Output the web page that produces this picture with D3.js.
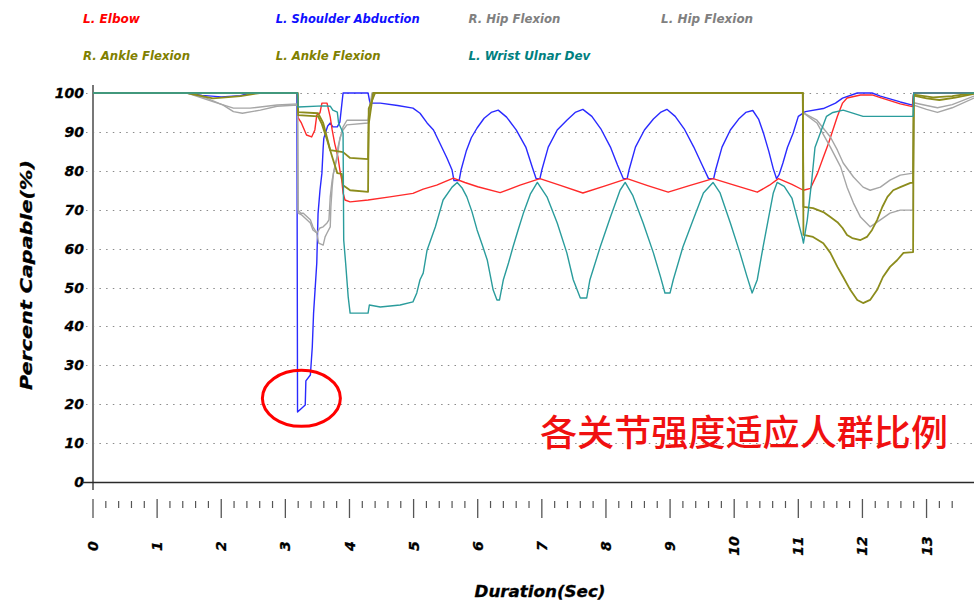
<!DOCTYPE html>
<html>
<head>
<meta charset="utf-8">
<script src="https://cdn.jsdelivr.net/npm/d3@7"></script>
<style>
  html, body { margin: 0; padding: 0; background: #fff; }
  svg { display: block; }
  .bi { font-family: "DejaVu Sans", Verdana, sans-serif; font-weight: bold; font-style: italic; }
</style>
</head>
<body>
<svg id="chart" width="974" height="602"></svg>
<script>
// ---- data: [time (s), percent capable] ----
const legendLabels = ["L. Elbow", "L. Shoulder Abduction", "R. Hip Flexion", "L. Hip Flexion",
                      "R. Ankle Flexion", "L. Ankle Flexion", "L. Wrist Ulnar Dev"];

const elbow = [[0,100],[3.19,100],[3.2,93.6],[3.25,92.3],[3.33,89.2],[3.41,88.7],[3.46,90.5],[3.49,94.3],
  [3.54,94.9],[3.57,97.4],[3.65,97.4],[3.70,93.8],[3.73,90.5],[3.77,87],[3.82,83.6],[3.85,80.2],[3.88,77.6],
  [3.90,74.3],[3.93,72.5],[4.01,72],[4.29,72.5],[4.63,73.3],[4.99,74.2],[5.15,75.3],[5.36,76.3],[5.62,78.1],
  [5.80,77],[6.0,75.9],[6.35,74.4],[6.66,76.3],[6.97,78],[7.3,76.2],[7.64,74.3],[8.0,76.2],[8.33,78],
  [8.65,76.2],[8.97,74.5],[9.3,76.2],[9.67,78],[10.0,76.3],[10.36,74.5],[10.55,76.3],[10.69,78],[10.9,76.5],
  [11.08,75],[11.19,75.5],[11.30,79.4],[11.39,83.5],[11.47,87],[11.61,94],[11.69,97.4],[11.76,98.7],
  [11.97,99.5],[12.15,99.5],[12.28,98.8],[12.59,97.2],[12.78,96.5],[12.80,100],[13.74,100]];

const shoulderAbd = [[0,100],[1.46,100],[1.7,99.4],[2.0,99.0],[2.3,99.3],[2.45,100],[3.18,100],[3.19,18],
  [3.31,19.8],[3.32,26],[3.39,27.5],[3.42,34.7],[3.44,43.4],[3.49,56.3],[3.51,69],[3.54,75],[3.57,79.4],
  [3.59,86],[3.60,88.4],[3.66,91.5],[3.70,92.3],[3.74,91.3],[3.81,91.3],[3.85,92.5],[3.88,97],[3.90,100],
  [4.29,100],[4.32,97.4],[4.48,97.4],[4.75,96.8],[4.99,96.1],[5.10,94.8],[5.21,92.3],[5.31,90.5],[5.41,87.1],
  [5.52,83.3],[5.60,80.2],[5.63,77.5],[5.71,77.5],[5.74,80.2],[5.82,85],[5.90,88.5],[5.99,91],[6.10,93.5],
  [6.21,95],[6.32,95.6],[6.45,93.8],[6.60,90.5],[6.75,86.1],[6.85,81],[6.91,78],[6.97,78],[7.0,80.2],
  [7.1,86.1],[7.24,90.5],[7.39,93],[7.52,95],[7.64,95.8],[7.78,94],[7.92,90.8],[8.07,86.1],[8.18,81.5],
  [8.27,78],[8.33,78],[8.36,80.2],[8.46,86.1],[8.60,90.5],[8.74,93.3],[8.85,95],[8.95,95.8],[9.08,94],
  [9.22,90.8],[9.37,86.1],[9.50,81.5],[9.60,78],[9.68,78],[9.71,80.2],[9.81,86.1],[9.94,90.5],[10.07,93.3],
  [10.18,95],[10.29,95.5],[10.38,93.3],[10.46,89.5],[10.54,85],[10.61,80.5],[10.66,78],[10.70,79],[10.76,82],
  [10.83,86],[10.92,89.7],[11.0,94],[11.11,95.2],[11.39,96],[11.58,97.4],[11.69,98.7],[11.92,100],
  [12.15,100],[12.28,99.2],[12.59,97.7],[12.78,96.9],[12.80,100],[13.74,100]];

const rHip = [[0,100],[1.47,100],[1.78,98.6],[2.03,96.9],[2.19,95.2],[2.33,94.8],[2.61,95.6],[2.87,96.6],
  [3.19,96.9],[3.2,69.9],[3.24,69.1],[3.28,69.1],[3.39,67.4],[3.43,65.6],[3.49,64],[3.52,61.4],[3.59,60.9],
  [3.62,63],[3.65,64],[3.70,65.6],[3.71,70.7],[3.73,75.8],[3.75,79.4],[3.81,83.6],[3.82,86.1],[3.90,91.3],
  [3.96,93],[4.29,93],[4.32,97.4],[4.37,100],[11.07,100],[11.08,94.9],[11.29,92.3],[11.50,86.1],[11.66,81],
  [11.76,75.8],[11.86,71.7],[11.97,68.1],[12.12,65.6],[12.28,67.4],[12.43,69.1],[12.59,69.9],[12.79,69.9],
  [12.80,96.9],[13.0,95.8],[13.17,95.0],[13.4,96.2],[13.74,98.7]];

const lHip = [[0,100],[1.47,100],[1.87,97.8],[2.19,96.1],[2.45,96.1],[2.87,96.9],[3.19,97.2],[3.2,69.1],
  [3.26,68.6],[3.39,66.6],[3.43,64.8],[3.49,64],[3.54,65.3],[3.59,65.6],[3.65,66.6],[3.68,67.4],[3.70,73.3],
  [3.73,77.6],[3.77,81],[3.82,84.8],[3.85,88.4],[3.90,90.5],[3.96,91.8],[4.29,92.3],[4.35,100],[11.07,100],
  [11.08,94.9],[11.29,93],[11.50,88.7],[11.61,85.3],[11.70,82],[11.86,78.4],[12.01,75.8],[12.12,75],
  [12.28,75.8],[12.43,77.6],[12.59,78.9],[12.79,79.4],[12.80,97.5],[13.0,96.8],[13.17,96.2],[13.4,97],
  [13.74,99.2]];

const rAnkle = [[0,100],[1.47,100],[1.87,98.6],[2.3,99.2],[2.6,100],[3.19,100],[3.2,95.1],[3.51,94.8],
  [3.59,92.3],[3.65,88.5],[3.70,85.3],[3.90,84.8],[4.01,83.3],[4.29,83],[4.30,92],[4.37,100],[11.07,100],
  [11.08,70.7],[11.23,70.4],[11.39,69.4],[11.50,68.1],[11.61,66.8],[11.69,65.3],[11.76,63.5],[11.84,62.7],
  [11.97,62.2],[12.07,63],[12.15,64.8],[12.23,67.4],[12.31,70.7],[12.39,73.3],[12.48,75],[12.59,75.8],
  [12.75,76.9],[12.79,76.9],[12.80,99.3],[13.0,98.6],[13.2,98.2],[13.45,98.8],[13.74,99.8]];

const lAnkle = [[0,100],[3.19,100],[3.2,94.3],[3.51,94.0],[3.57,92],[3.65,88],[3.73,83.6],[3.81,79.4],
  [3.88,79.2],[3.90,76.3],[4.01,75],[4.29,74.6],[4.30,96],[4.40,100],[11.07,100],[11.08,63.5],[11.23,63],
  [11.39,61.4],[11.50,58.9],[11.61,55.3],[11.70,52.7],[11.81,49.4],[11.92,46.8],[12.01,46],[12.12,46.8],
  [12.23,49.4],[12.32,52.7],[12.43,55.3],[12.54,57],[12.64,58.9],[12.79,59.1],[12.80,99.6],[13.1,98.9],
  [13.4,99.2],[13.74,100]];

const wristUlnar = [[0,100],[3.19,100],[3.2,96.4],[3.59,96.7],[3.70,96.6],[3.74,95.6],[3.81,95.1],[3.83,92.3],
  [3.88,90.5],[3.90,89.7],[3.91,62.2],[3.94,56.3],[3.98,47.6],[4.01,43.4],[4.29,43.4],[4.31,45.5],[4.48,45],
  [4.79,45.5],[4.99,46.3],[5.05,48.6],[5.10,52],[5.15,53.7],[5.21,59.6],[5.34,65.6],[5.46,72.5],[5.60,75.8],
  [5.68,77],[5.76,75.5],[5.83,73.3],[5.91,69.5],[5.99,64.8],[6.07,61],[6.15,57],[6.24,49.4],[6.30,46.8],
  [6.34,46.8],[6.40,52],[6.48,56.3],[6.55,60.4],[6.63,64.8],[6.71,69],[6.82,74],[6.93,77],[7.08,73.3],
  [7.24,66.6],[7.39,58.9],[7.49,52],[7.60,47.3],[7.70,47.3],[7.75,52],[7.91,60.4],[8.07,68.1],[8.22,75],
  [8.30,77],[8.42,73.6],[8.58,66.6],[8.74,58.9],[8.85,52.8],[8.92,48.6],[9.0,48.6],[9.05,52],[9.20,60.4],
  [9.36,67.4],[9.52,74.3],[9.67,77],[9.78,74.3],[9.94,66.6],[10.09,58.9],[10.20,52.8],[10.28,48.6],[10.36,52],
  [10.45,60.4],[10.53,67.4],[10.61,74.3],[10.67,77],[10.78,76],[10.90,73],[10.99,67.4],[11.06,63],[11.08,61.4],
  [11.14,67.4],[11.21,77.6],[11.26,86],[11.36,90.5],[11.44,94],[11.54,95],[11.70,95.6],[12.01,94],[12.43,94],
  [12.79,94],[12.80,100],[13.74,100]];

const yTickValues = [0, 10, 20, 30, 40, 50, 60, 70, 80, 90, 100];
const xTickLabels = [0, 1, 2, 3, 4, 5, 6, 7, 8, 9, 10, 11, 12, 13];
const xDomain = [0, 13.74];
const annotation = "各关节强度适应人群比例";

// ---- styling ----
const legendColors = ["#ff0000", "#1010ff", "#808080", "#808080", "#808000", "#808000", "#008080"];
const legendWidths = [57, 144, 92, 92, 107, 105, 122];
const lineColors = {
  elbow: "#ff2a2a", shoulderAbd: "#2a2aff", rHip: "#a6a6a6", lHip: "#a6a6a6",
  rAnkle: "#8c8c1c", lAnkle: "#8c8c1c", wristUlnar: "#2a9c9c"
};
// drawn back to front
const drawOrder = [
  ["shoulderAbd", shoulderAbd], ["elbow", elbow], ["rHip", rHip], ["lHip", lHip],
  ["rAnkle", rAnkle], ["lAnkle", lAnkle], ["wristUlnar", wristUlnar]
];

const svg = d3.select("#chart");
const x = d3.scaleLinear().domain(xDomain).range([93, 974]);
const y = d3.scaleLinear().domain([0, 100]).range([482, 93]);

// legend
legendLabels.forEach((name, i) => {
  const col = i % 4, row = Math.floor(i / 4);
  svg.append("text").attr("class", "bi")
    .attr("x", 83 + col * 192.7).attr("y", row === 0 ? 23 : 60)
    .attr("font-size", 12.5).attr("fill", legendColors[i])
    .attr("textLength", legendWidths[i]).attr("lengthAdjust", "spacingAndGlyphs")
    .text(name);
});

// dotted horizontal grid
svg.append("g").selectAll("line").data(yTickValues.filter(d => d > 0)).join("line")
  .attr("x1", 86).attr("x2", 974)
  .attr("y1", d => Math.round(y(d)) + 0.5).attr("y2", d => Math.round(y(d)) + 0.5)
  .attr("stroke", "#8a8a8a").attr("stroke-width", 1).attr("stroke-dasharray", "1.5,5.2");

// y tick labels
svg.append("g").selectAll("text").data(yTickValues).join("text").attr("class", "bi")
  .attr("x", 84).attr("y", d => y(d)).attr("dy", "0.36em")
  .attr("text-anchor", "end").attr("font-size", 14).attr("fill", "#000")
  .attr("stroke", "#000").attr("stroke-width", 0.3)
  .text(d => d);

// axes lines
svg.append("line").attr("x1", 93).attr("x2", 93).attr("y1", 85).attr("y2", 490)
  .attr("stroke", "#777").attr("stroke-width", 2);
svg.append("line").attr("x1", 82).attr("x2", 974).attr("y1", 482.5).attr("y2", 482.5)
  .attr("stroke", "#2a2a2a").attr("stroke-width", 1.5);

// x ticks: minor every 0.2 s, major every second
const minorTicks = d3.range(0, 68).map(i => i / 5).filter(v => Math.abs(v - Math.round(v)) > 1e-6);
svg.append("g").selectAll("line").data(minorTicks).join("line")
  .attr("x1", d => x(d)).attr("x2", d => x(d)).attr("y1", 501).attr("y2", 508)
  .attr("stroke", "#555").attr("stroke-width", 1.2);
svg.append("g").selectAll("line").data(xTickLabels).join("line")
  .attr("x1", d => x(d)).attr("x2", d => x(d)).attr("y1", 499).attr("y2", 518)
  .attr("stroke", "#555").attr("stroke-width", 1.3);
svg.append("g").selectAll("text").data(xTickLabels).join("text").attr("class", "bi")
  .attr("transform", d => `translate(${x(d)},546) rotate(-90)`)
  .attr("text-anchor", "middle").attr("dy", "0.36em")
  .attr("font-size", 14).attr("fill", "#000")
  .attr("stroke", "#000").attr("stroke-width", 0.3)
  .text(d => d);

// axis titles
svg.append("text").attr("class", "bi")
  .attr("transform", "translate(26,275) rotate(-90)")
  .attr("text-anchor", "middle").attr("dy", "0.36em").attr("font-size", 15.5)
  .attr("stroke", "#000").attr("stroke-width", 0.3)
  .attr("textLength", 230).attr("lengthAdjust", "spacingAndGlyphs")
  .text("Percent Capable(%)");
svg.append("text").attr("class", "bi")
  .attr("x", 540).attr("y", 597).attr("text-anchor", "middle").attr("font-size", 15)
  .attr("stroke", "#000").attr("stroke-width", 0.3)
  .attr("textLength", 131).attr("lengthAdjust", "spacingAndGlyphs")
  .text("Duration(Sec)");

// series lines
const line = d3.line().x(d => x(d[0])).y(d => y(d[1]));
svg.append("g").selectAll("path").data(drawOrder).join("path")
  .attr("d", d => line(d[1]))
  .attr("fill", "none")
  .attr("stroke", d => lineColors[d[0]])
  .attr("stroke-width", d => (d[0] === "rAnkle" || d[0] === "lAnkle") ? 1.8 : 1.4)
  .attr("stroke-linejoin", "round");

// highlight of the shoulder minimum
svg.append("ellipse").attr("cx", x(3.25)).attr("cy", y(21.5)).attr("rx", 39).attr("ry", 28)
  .attr("fill", "none").attr("stroke", "#ff0000").attr("stroke-width", 3);

svg.append("text")
  .attr("x", 540).attr("y", 446)
  .attr("font-family", "'Noto Sans CJK SC', sans-serif").attr("font-size", 36)
  .attr("font-weight", 500)
  .attr("fill", "#f01010")
  .attr("textLength", 408).attr("lengthAdjust", "spacingAndGlyphs")
  .text(annotation);
</script>
</body>
</html>
